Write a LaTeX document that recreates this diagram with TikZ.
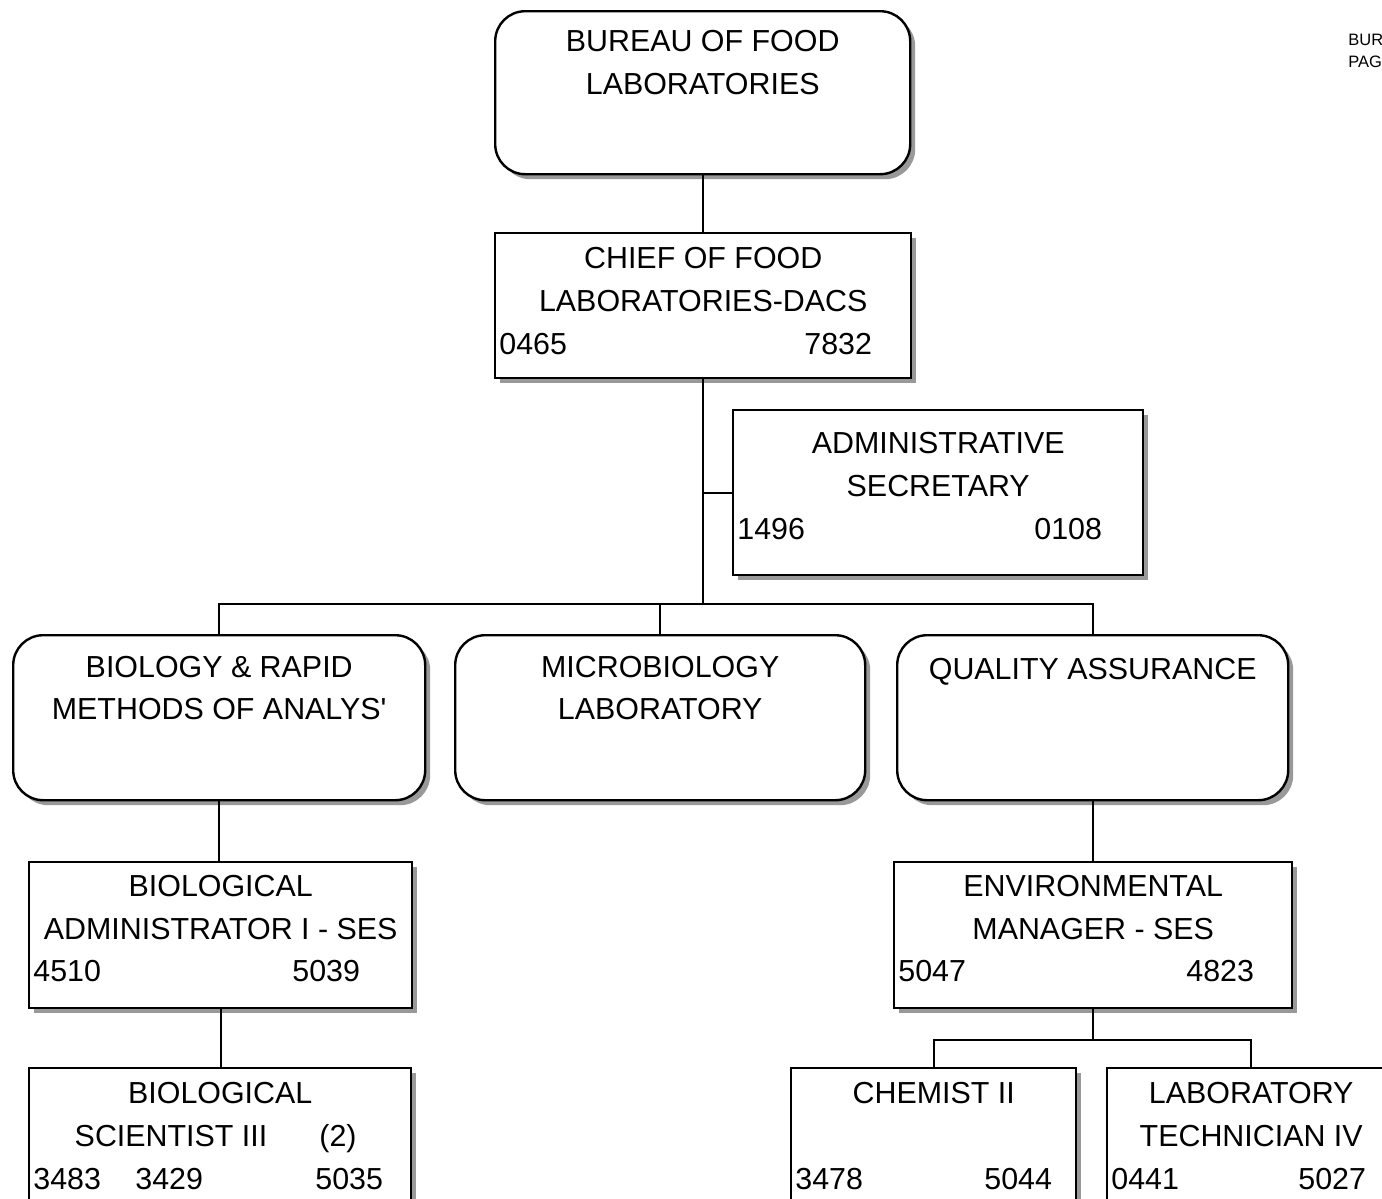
\documentclass[tikz,border=0pt]{standalone}
\usepackage{fontspec}
\setmainfont{Liberation Sans}
\usetikzlibrary{shadows}

\tikzset{
  box/.style={draw, line width=1.2pt, fill=white, anchor=north west, inner sep=0pt,
    drop shadow={shadow xshift=2.5pt, shadow yshift=-2.5pt, fill=gray!80, opacity=1}},
  rbox/.style={box, rounded corners=15pt},
  conn/.style={line width=1.05pt, black},
  txt/.style={inner sep=0pt, font=\fontsize{15.2}{18}\selectfont},
  tag/.style={inner sep=0pt, font=\fontsize{8.25}{11}\selectfont},
}

\begin{document}
\begin{tikzpicture}[x=0.5pt, y=-0.5pt]
            \useasboundingbox (0,0) rectangle (1382,1199);
            \clip (0,0) rectangle (1382,1199);

            % units and positions
            \node[rbox, minimum width=207.5pt, minimum height=81.5pt] (bur)   at (494,10)   {};
            \node[box,  minimum width=208pt,   minimum height=72.5pt] (chief) at (494,232)  {};
            \node[box,  minimum width=205pt,   minimum height=82.5pt] (sec)   at (732,409)  {};
            \node[rbox, minimum width=206pt,   minimum height=82.5pt] (bio)   at (12,634)   {};
            \node[rbox, minimum width=205pt,   minimum height=82.5pt] (micro) at (454,634)  {};
            \node[rbox, minimum width=195.5pt, minimum height=82.5pt] (qa)    at (896,634)  {};
            \node[box,  minimum width=191.5pt, minimum height=73pt]   (badm)  at (28,861)   {};
            \node[box,  minimum width=199pt,   minimum height=73pt]   (env)   at (893,861)  {};
            \node[box,  minimum width=191pt,   minimum height=73pt]   (bsci)  at (28,1067)  {};
            \node[box,  minimum width=142.5pt, minimum height=73pt]   (chem)  at (790,1067) {};
            \node[box,  minimum width=144pt,   minimum height=73pt]   (tech)  at (1106,1067) {};

            % titles, centred under the top edge
            \foreach \b/\dy/\t in {bur/41/BUREAU OF FOOD, bur/84/LABORATORIES,
                chief/36/CHIEF OF FOOD, chief/79/LABORATORIES-DACS,
                sec/44/ADMINISTRATIVE, sec/87/SECRETARY,
                bio/43/BIOLOGY \& RAPID, bio/85/METHODS OF ANALYS\textquotesingle,
                micro/43/MICROBIOLOGY, micro/85/LABORATORY,
                qa/45/QUALITY ASSURANCE,
                badm/35/BIOLOGICAL, badm/78/ADMINISTRATOR I - SES,
                env/35/ENVIRONMENTAL, env/78/MANAGER - SES,
                bsci/36/BIOLOGICAL,
                chem/36/CHEMIST II,
                tech/36/LABORATORY, tech/79/TECHNICIAN IV} {
            \node[txt, anchor=base] at ([shift={(0,\dy)}]\b.north) {\t};}

            \node[txt, anchor=base] (bscis) at (171,1146) {SCIENTIST III};
            \node[txt, anchor=base] (bscin) at (338,1146) {(2)};

            % position numbers, left and right
            \foreach \b/\dy/\l/\r/\m in {chief/122/0465/7832/40, sec/130/1496/0108/42,
                badm/120/4510/5039/53, env/120/5047/4823/39, bsci/122/3483/5035/29,
                chem/122/3478/5044/25, tech/122/0441/5027/30} {
            \node[txt, anchor=base west] at ([shift={(5,\dy)}]\b.north west) {\l};
            \node[txt, anchor=base east] at ([shift={(-\m,\dy)}]\b.north east) {\r};}
            \node[txt, anchor=base west] (bscim) at ([shift={(107,122)}]bsci.north west) {3429};

            % lines
            \draw [conn] (bur.south) -- (bur.south |- chief.north);
            \draw [conn] (chief.south) -- ++(0,225) coordinate (bus);
            \draw [conn] (sec.west) -- (sec.west -| bus);
            \draw [conn] (bio.north) |- (bus) -| (qa.north);
            \draw [conn] (micro.north) -- (micro.north |- bus);
            \draw [conn] (bio.south) -- (bio.south |- badm.north);
            \draw [conn] (badm.south) -- (badm.south |- bsci.north);
            \draw [conn] (qa.south) -- (qa.south |- env.north);
            \draw [conn] (env.south) -- ++(0,31) coordinate (ebus);
            \draw [conn] (chem.north) |- (ebus) -| (tech.north);

            \node[tag, anchor=base west] (tag1) at (1348,46) {BUREAU};
            \node[tag, anchor=base west] (tag2) at (1348,68) {PAGE};
        \end{tikzpicture}
\end{document}
